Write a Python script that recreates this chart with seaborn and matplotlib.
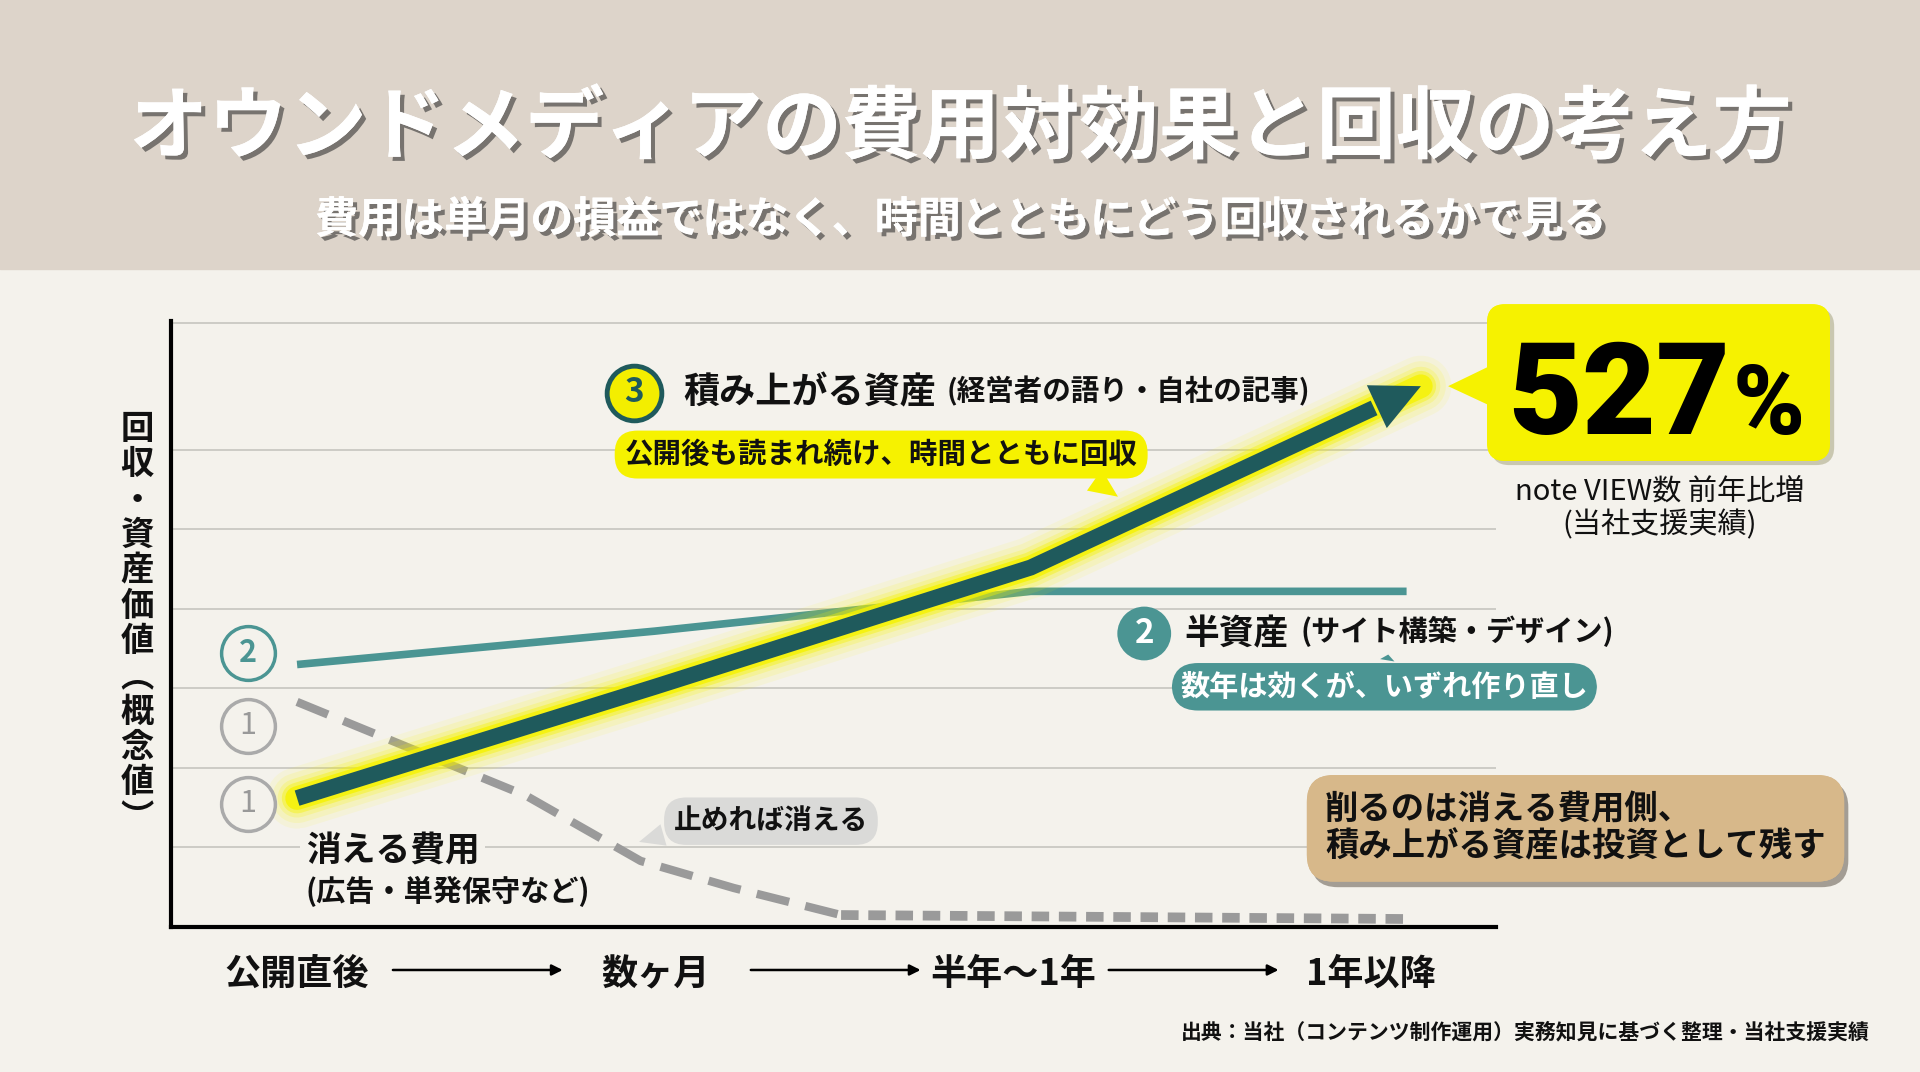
import matplotlib
matplotlib.use("Agg")
import matplotlib.pyplot as plt
import matplotlib.patheffects as pe
from matplotlib.patches import FancyBboxPatch, Polygon, Rectangle
import pandas as pd
import seaborn as sns

# Eje temporal (categorias)
etapas = ["公開直後", "数ヶ月", "半年〜1年", "1年以降"]

# ③ 積み上がる資産 (linea gruesa con flecha)
x_activo = [0.0, 1.0, 2.05, 3.14]
y_activo = [1.62, 3.02, 4.52, 6.80]

# ② 半資産
x_semi = [0.0, 1.0, 2.05, 3.10]
y_semi = [3.30, 3.72, 4.22, 4.22]

# ① 消える費用 (discontinua)
x_gasto = [0.0, 0.64, 0.96, 1.22, 1.52, 3.10]
y_gasto = [2.83, 1.65, 0.83, 0.49, 0.15, 0.10]

FONDO = "#f4f2ec"
CABECERA = "#ddd4ca"
OSCURO = "#1f5a5c"
TEAL = "#4b9593"
GRIS = "#9a9a9a"
AMARILLO = "#f6f200"

sns.set_theme(style="white")
plt.rcParams['font.family'] = ['Noto Sans CJK JP', 'DejaVu Sans']

fig = plt.figure(figsize=(19.2, 10.72), dpi=100, facecolor=FONDO)
fig.patches.append(Rectangle((0, 0.749), 1, 0.251, transform=fig.transFigure,
                             color=CABECERA, zorder=0))

sombra = [pe.withSimplePatchShadow(offset=(3, -3), shadow_rgbFace="#333333", alpha=0.6), pe.Normal()]
fig.text(0.5, 0.880, "オウンドメディアの費用対効果と回収の考え方", ha="center", va="center",
         fontsize=57, fontweight="bold", color="white", path_effects=sombra)
fig.text(0.5, 0.795, "費用は単月の損益ではなく、時間とともにどう回収されるかで見る", ha="center",
         va="center", fontsize=31, fontweight="bold", color="white", path_effects=sombra)

ax = fig.add_axes([0.0891, 0.1353, 0.6901, 0.5653])
ax.set_facecolor("none")
ax.set_xlim(-0.352, 3.35)
ax.set_ylim(0, 7.62)

# rejilla
ax.set_yticks([1, 2, 3, 4, 5, 6, 7.6])
ax.yaxis.grid(True, color="#c9c8c3", lw=1.3)
ax.set_axisbelow(True)
ax.tick_params(left=False, labelleft=False, bottom=False, pad=15)
ax.set_xticks(range(len(etapas)))
ax.set_xticklabels(etapas, fontsize=26, fontweight="bold", color="#111111")
for lado in ["top", "right"]:
    ax.spines[lado].set_visible(False)
for lado in ["left", "bottom"]:
    ax.spines[lado].set_color("black")
    ax.spines[lado].set_linewidth(3)

# flechas entre etapas
for i in range(len(etapas) - 1):
    ax.annotate("", xy=(i + 0.75, -0.071), xytext=(i + 0.26, -0.071),
                xycoords=("data", "axes fraction"), textcoords=("data", "axes fraction"),
                arrowprops=dict(arrowstyle="-|>", color="black", lw=1.8, mutation_scale=16),
                annotation_clip=False)

# ① gasto que desaparece
sns.lineplot(x=x_gasto[:5], y=y_gasto[:5], ax=ax, color=GRIS, lw=6,
             linestyle=(0, (4, 2)), zorder=2)
sns.lineplot(x=x_gasto[4:], y=y_gasto[4:], ax=ax, color=GRIS, lw=7,
             linestyle=(0, (1.8, 1.0)), zorder=2)

# ② semi activo
sns.lineplot(x=x_semi, y=y_semi, ax=ax, color=TEAL, lw=5.5, solid_capstyle="butt", zorder=3)

# ③ activo con brillo amarillo
for ancho, alfa in [(44, 0.08), (36, 0.12), (28, 0.2), (22, 0.4), (17, 0.8)]:
    ax.plot(x_activo, y_activo, color=AMARILLO, lw=ancho, alpha=alfa,
            solid_capstyle="round", solid_joinstyle="round", zorder=4)
x_cuerpo = x_activo[:-1] + [x_activo[-2] + 0.88 * (x_activo[-1] - x_activo[-2])]
y_cuerpo = y_activo[:-1] + [y_activo[-2] + 0.88 * (y_activo[-1] - y_activo[-2])]
sns.lineplot(x=x_cuerpo, y=y_cuerpo, ax=ax, color=OSCURO, lw=11.5,
             solid_capstyle="butt", solid_joinstyle="miter", zorder=5)
ax.annotate("", xy=(x_activo[-1], y_activo[-1]), xytext=(x_activo[-2], y_activo[-2]),
            arrowprops=dict(arrowstyle="-|>,head_length=1.75,head_width=0.85", color=OSCURO,
                            lw=0, mutation_scale=20, shrinkA=0, shrinkB=0), zorder=6)

# marcadores circulares a la izquierda
ax.scatter([-0.137], [3.44], s=1500, facecolors=FONDO, edgecolors=TEAL, linewidths=2.5,
           zorder=6, clip_on=False)
ax.text(-0.137, 3.44, "2", ha="center", va="center", fontsize=22, fontweight="bold",
        color=TEAL, zorder=7)
for yy in [2.53, 1.55]:
    ax.scatter([-0.137], [yy], s=1500, facecolors=FONDO, edgecolors="#aaaaaa", linewidths=2.5,
               zorder=6, clip_on=False)
    ax.text(-0.137, yy, "1", ha="center", va="center", fontsize=22, color="#999999", zorder=7)

# etiqueta ③
ax.scatter([0.941], [6.72], s=1550, facecolors="#f3ee00", edgecolors=OSCURO, linewidths=3.5,
           zorder=6, clip_on=False)
ax.text(0.941, 6.72, "3", ha="center", va="center", fontsize=24, fontweight="bold",
        color=OSCURO, zorder=7)
t3 = ax.text(1.078, 6.72, "積み上がる資産", ha="left", va="center", fontsize=26,
             fontweight="bold", color="#111111", zorder=7)
ax.annotate("(経営者の語り・自社の記事)", xy=(1, 0.12), xycoords=t3, xytext=(8, 0),
            textcoords="offset points", ha="left", va="bottom", fontsize=20.5,
            fontweight="bold", color="#111111", zorder=7)
ax.annotate("公開後も読まれ続け、時間とともに回収", xy=(2.30, 5.39), xytext=(1.632, 5.94),
            ha="center", va="center", fontsize=20.5, fontweight="bold", color="#111111",
            bbox=dict(boxstyle="round,pad=0.35,rounding_size=0.8", fc=AMARILLO, ec="none"),
            arrowprops=dict(arrowstyle="wedge,tail_width=0.9,shrink_factor=0.5", fc=AMARILLO,
                            ec="none", relpos=(0.86, 0.3)), zorder=8)

# caja 527%
caja = FancyBboxPatch((3.325, 5.86), 0.958, 1.97,
                      boxstyle="round,pad=0,rounding_size=0.05", mutation_aspect=4.49,
                      fc=AMARILLO, ec="none", clip_on=False, zorder=8,
                      path_effects=[pe.withSimplePatchShadow(offset=(3, -3), alpha=0.25), pe.Normal()])
ax.add_patch(caja)
ax.add_patch(Polygon([(3.34, 7.07), (3.216, 6.80), (3.34, 6.54)], closed=True, fc=AMARILLO,
                     ec="none", clip_on=False, zorder=8))
ax.text(3.695, 6.20, "527", ha="center", va="baseline", fontsize=92, fontweight=900,
        family=["Roboto", "DejaVu Sans"], color="black", zorder=9, clip_on=False)
ax.text(4.01, 6.20, "%", ha="left", va="baseline", fontsize=70, fontweight=900,
        family=["Roboto", "DejaVu Sans"], color="black", zorder=9, clip_on=False)
ax.text(3.808, 5.47, "note VIEW数 前年比増", ha="center", va="center", fontsize=21,
        color="#111111", zorder=9, clip_on=False)
ax.text(3.808, 5.05, "(当社支援実績)", ha="center", va="center", fontsize=21,
        color="#111111", zorder=9, clip_on=False)

# etiqueta ②
ax.scatter([2.367], [3.69], s=1500, facecolors=TEAL, edgecolors="none", zorder=6)
ax.text(2.367, 3.69, "2", ha="center", va="center", fontsize=24, fontweight="bold",
        color="white", zorder=7)
t2 = ax.text(2.48, 3.69, "半資産", ha="left", va="center", fontsize=25, fontweight="bold",
             color="#111111", zorder=7)
ax.annotate("(サイト構築・デザイン)", xy=(1, 0.12), xycoords=t2, xytext=(8, 0),
            textcoords="offset points", ha="left", va="bottom", fontsize=21,
            fontweight="bold", color="#111111", zorder=7)
ax.annotate("数年は効くが、いずれ作り直し", xy=(3.05, 3.46), xytext=(3.038, 3.02),
            ha="center", va="center", fontsize=21, color="white", fontweight="bold",
            bbox=dict(boxstyle="round,pad=0.3,rounding_size=0.9", fc=TEAL, ec="none"),
            arrowprops=dict(arrowstyle="wedge,tail_width=0.5,shrink_factor=0.5", fc=TEAL,
                            ec="none", relpos=(0.5, 0.8)), zorder=8)

# etiqueta ①
ax.annotate("止めれば消える", xy=(0.948, 1.06), xytext=(1.324, 1.33),
            ha="center", va="center", fontsize=20, fontweight="bold", color="#111111",
            bbox=dict(boxstyle="round,pad=0.35,rounding_size=0.8", fc="#dadad8", ec="none"),
            arrowprops=dict(arrowstyle="wedge,tail_width=0.8,shrink_factor=0.5", fc="#dadad8",
                            ec="none", relpos=(0.12, 0.35)), zorder=8)
ax.text(0.024, 0.95, "消える費用", ha="left", va="center", fontsize=25, fontweight="bold",
        color="#111111", zorder=7, bbox=dict(fc=FONDO, ec="none", pad=4))
ax.text(0.024, 0.44, "(広告・単発保守など)", ha="left", va="center", fontsize=21,
        fontweight="bold", color="#111111", zorder=7)

# caja de conclusion
nota = ax.text(3.572, 1.24, "削るのは消える費用側、\n積み上がる資産は投資として残す",
               ha="center", va="center", multialignment="left", fontsize=24,
               fontweight="bold", color="#111111", linespacing=1.15, zorder=9,
               bbox=dict(boxstyle="round,pad=0.55,rounding_size=0.8", fc="#d7b88a", ec="none"))
nota.get_bbox_patch().set_path_effects([pe.withSimplePatchShadow(offset=(3, -4), alpha=0.45), pe.Normal()])

# etiqueta vertical del eje y
fig.text(0.0714, 0.418, "\n".join("回収・資産価値︵概念値︶"), ha="center", va="center",
         fontsize=24, fontweight="bold", color="#111111", linespacing=1.09)

fig.text(0.974, 0.0373, "出典：当社（コンテンツ制作運用）実務知見に基づく整理・当社支援実績",
         ha="right", va="center", fontsize=15, fontweight="bold", color="#111111")

fig.savefig("out.png", dpi=100, facecolor=FONDO)
